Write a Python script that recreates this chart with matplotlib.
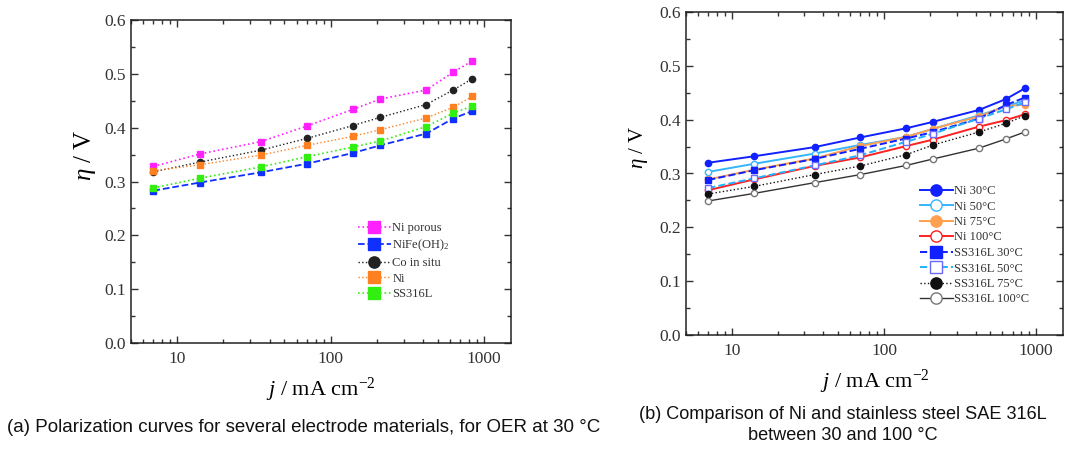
import matplotlib
matplotlib.use("Agg")
import matplotlib.pyplot as plt
from matplotlib.ticker import MultipleLocator, LogLocator, NullFormatter, FixedLocator, FixedFormatter

# current density, mA cm^-2
j = [7, 14, 35, 70, 140, 210, 420, 630, 840]

# (a) 30 degC, several electrode materials
ni_porous = [0.328, 0.351, 0.374, 0.403, 0.434, 0.453, 0.470, 0.503, 0.524]
nife_oh2 = [0.283, 0.298, 0.317, 0.333, 0.353, 0.367, 0.389, 0.417, 0.431]
co_in_situ = [0.318, 0.336, 0.358, 0.380, 0.404, 0.419, 0.443, 0.470, 0.491]
ni_a = [0.320, 0.331, 0.349, 0.367, 0.384, 0.396, 0.418, 0.438, 0.458]
ss316l_a = [0.288, 0.306, 0.327, 0.346, 0.364, 0.375, 0.402, 0.427, 0.440]

# (b) Ni vs SS316L, 30-100 degC
ni_30 = [0.320, 0.332, 0.349, 0.367, 0.384, 0.396, 0.418, 0.438, 0.458]
ni_50 = [0.303, 0.318, 0.337, 0.353, 0.368, 0.383, 0.408, 0.424, 0.436]
ni_75 = [0.289, 0.307, 0.328, 0.351, 0.368, 0.383, 0.406, 0.425, 0.428]
ni_100 = [0.269, 0.289, 0.314, 0.330, 0.351, 0.363, 0.387, 0.399, 0.410]
ss_30 = [0.288, 0.306, 0.327, 0.346, 0.365, 0.377, 0.402, 0.427, 0.441]
ss_50 = [0.273, 0.291, 0.315, 0.334, 0.359, 0.374, 0.402, 0.419, 0.432]
ss_75 = [0.262, 0.276, 0.298, 0.314, 0.335, 0.353, 0.377, 0.393, 0.407]
ss_100 = [0.249, 0.263, 0.283, 0.298, 0.315, 0.327, 0.347, 0.364, 0.377]

caption_a = "(a) Polarization curves for several electrode materials, for OER at 30 \u00b0C"
caption_b = "(b) Comparison of Ni and stainless steel SAE 316L\nbetween 30 and 100 \u00b0C"

SERIF = ['Liberation Serif', 'DejaVu Serif']
plt.rcParams['font.family'] = SERIF
plt.rcParams['mathtext.fontset'] = 'custom'
plt.rcParams['mathtext.rm'] = 'Liberation Serif'
plt.rcParams['mathtext.it'] = 'Liberation Serif:italic'

W, H = 1067, 450
fig = plt.figure(figsize=(W / 100, H / 100), dpi=100)


def make_axes(x0, y0, x1, y1, ylab_x, ylab_size):
    ax = fig.add_axes([x0 / W, 1 - y1 / H, (x1 - x0) / W, (y1 - y0) / H])
    ax.set_xscale('log')
    ax.set_xlim(5, 1500)
    ax.set_ylim(0, 0.6)
    ax.yaxis.set_major_locator(MultipleLocator(0.1))
    ax.yaxis.set_minor_locator(MultipleLocator(0.05))
    ax.xaxis.set_major_locator(FixedLocator([10, 100, 1000]))
    ax.xaxis.set_major_formatter(FixedFormatter(['10', '100', '1000']))
    ax.xaxis.set_minor_locator(LogLocator(base=10, subs=range(2, 10)))
    ax.xaxis.set_minor_formatter(NullFormatter())
    ax.tick_params(which='both', direction='in', top=True, right=True,
                   labelsize=12.5, colors='#333333', width=1)
    ax.tick_params(which='major', length=5)
    ax.tick_params(which='minor', length=3)
    ax.tick_params(axis='x', pad=6)
    for sp in ax.spines.values():
        sp.set_linewidth(1.1)
        sp.set_color('#222222')
    ax.set_xlabel(r'$j$ / mA cm$^{-2}$', fontsize=16, labelpad=6)
    ax.set_ylabel(r'$\eta$ / V', fontsize=ylab_size)
    ax.yaxis.set_label_coords(ylab_x, 0.58)
    return ax


leg_kw = dict(loc='upper left', frameon=False, fontsize=9, markerscale=1.8,
              handlelength=2.6, handletextpad=0.15,
              labelcolor='#333333', borderaxespad=0, borderpad=0)

# ---- (a) ----
ax1 = make_axes(131, 20, 511, 343, -0.087, 18)
ms = 4.5
ax1.plot(j, ni_porous, ':', color='#ff22ff', lw=1.2, marker='s', ms=ms, label='Ni porous')
ax1.plot(j, nife_oh2, '--', color='#1030ff', lw=1.3, marker='s', ms=ms, label='NiFe(OH)$_2$')
ax1.plot(j, co_in_situ, ':', color='#222222', lw=1.0, marker='o', ms=ms, label='Co in situ')
ax1.plot(j, ni_a, ':', color='#ff8020', lw=1.0, marker='s', ms=ms, label='Ni')
ax1.plot(j, ss316l_a, ':', color='#33ee11', lw=1.2, marker='s', ms=ms, label='SS316L')
ax1.legend(bbox_to_anchor=(227 / 380, (343 - 222) / 323), labelspacing=0.3, **leg_kw)

# ---- (b) ----
ax2 = make_axes(686, 12, 1063, 335, -0.095, 15)
ax2.plot(j, ni_30, '-', color='#1020ff', lw=1.4, marker='o', ms=ms, label='Ni 30\u00b0C')
ax2.plot(j, ni_50, '-', color='#33b5ff', lw=1.4, marker='o', ms=ms, mfc='white', label='Ni 50\u00b0C')
ax2.plot(j, ni_75, '-', color='#ffa050', lw=1.4, marker='o', ms=ms, label='Ni 75\u00b0C')
ax2.plot(j, ni_100, '-', color='#ff2020', lw=1.4, marker='o', ms=ms, mfc='white', label='Ni 100\u00b0C')
ax2.plot(j, ss_30, '--', color='#1020ff', lw=1.4, marker='s', ms=ms, label='SS316L 30\u00b0C')
ax2.plot(j, ss_50, '--', color='#22b0ff', lw=1.4, marker='s', ms=ms, mfc='white',
         mec='#6a6aff', label='SS316L 50\u00b0C')
ax2.plot(j, ss_75, ':', color='#111111', lw=1.0, marker='o', ms=ms, label='SS316L 75\u00b0C')
ax2.plot(j, ss_100, '-', color='#333333', lw=1.0, marker='o', ms=ms, mfc='white',
         mec='#777777', label='SS316L 100\u00b0C')
ax2.legend(bbox_to_anchor=(234 / 377, (335 - 185) / 323), labelspacing=0.28, **leg_kw)

# captions
CAP = ['Liberation Sans Narrow', 'Liberation Sans', 'DejaVu Sans']
fig.text(304 / W, 1 - 428 / H, caption_a, ha='center', va='center', fontsize=13.5,
         family=CAP, color='#111111')
fig.text(843 / W, 1 - 425 / H, caption_b, ha='center', va='center', fontsize=13.1,
         family=CAP, color='#111111', linespacing=1.3)

fig.savefig('out.png', dpi=100)
